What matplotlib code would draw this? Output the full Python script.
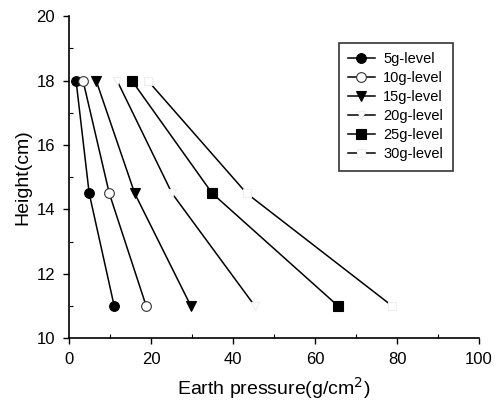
import matplotlib
matplotlib.use("Agg")
import matplotlib.pyplot as plt
from matplotlib.ticker import MultipleLocator

plt.rcParams['font.family'] = ['Liberation Sans', 'DejaVu Sans']

heights = [18, 14.5, 11]
labels = ['5g-level', '10g-level', '15g-level', '20g-level', '25g-level', '30g-level']
p5 = [1.7, 4.9, 11.0]
p10 = [3.4, 9.8, 18.8]
p15 = [6.6, 16.0, 29.7]
p20 = [11.7, 25.1, 45.3]
p25 = [15.3, 34.9, 65.6]
p30 = [19.2, 43.3, 78.8]
series = [p5, p10, p15, p20, p25, p30]

styles = [
    dict(marker='o', mfc='black', mec='black', ms=7),
    dict(marker='o', mfc='white', mec='#333333', ms=7),
    dict(marker='v', mfc='black', mec='black', ms=7),
    dict(marker='v', mfc='white', mec='#eeeeee', ms=6),
    dict(marker='s', mfc='black', mec='black', ms=6.5),
    dict(marker='s', mfc='white', mec='#eeeeee', ms=6),
]

fig = plt.figure(figsize=(4.97, 4.05), dpi=100)
ax = fig.add_axes([0.139, 0.165, 0.825, 0.795])

for vals, lab, st in zip(series, labels, styles):
    ax.plot(vals, heights, color='black', lw=1.1, label=lab, mew=0.8, **st)

ax.set_xlim(0, 100)
ax.set_ylim(10, 20)
ax.xaxis.set_major_locator(MultipleLocator(20))
ax.xaxis.set_minor_locator(MultipleLocator(10))
ax.yaxis.set_major_locator(MultipleLocator(2))
ax.yaxis.set_minor_locator(MultipleLocator(1))
ax.tick_params(which='major', direction='out', length=4, width=1, labelsize=12, pad=6)
ax.tick_params(which='minor', direction='in', length=3, width=0.8)
for s in ['top', 'right']:
    ax.spines[s].set_visible(False)
for s in ['left', 'bottom']:
    ax.spines[s].set_linewidth(1.2)

ax.set_xlabel('Earth pressure(g/cm$^2$)', fontsize=14, labelpad=6)
ax.set_ylabel('Height(cm)', fontsize=14, labelpad=4)

leg = ax.legend(loc='upper left', bbox_to_anchor=(0.64, 0.94), fontsize=10.5,
                frameon=True, fancybox=False, edgecolor='black', handlelength=1.8,
                labelspacing=0.34, borderpad=0.65, handletextpad=0.6)
leg.get_frame().set_linewidth(1.2)

fig.savefig('out.png', dpi=100)
